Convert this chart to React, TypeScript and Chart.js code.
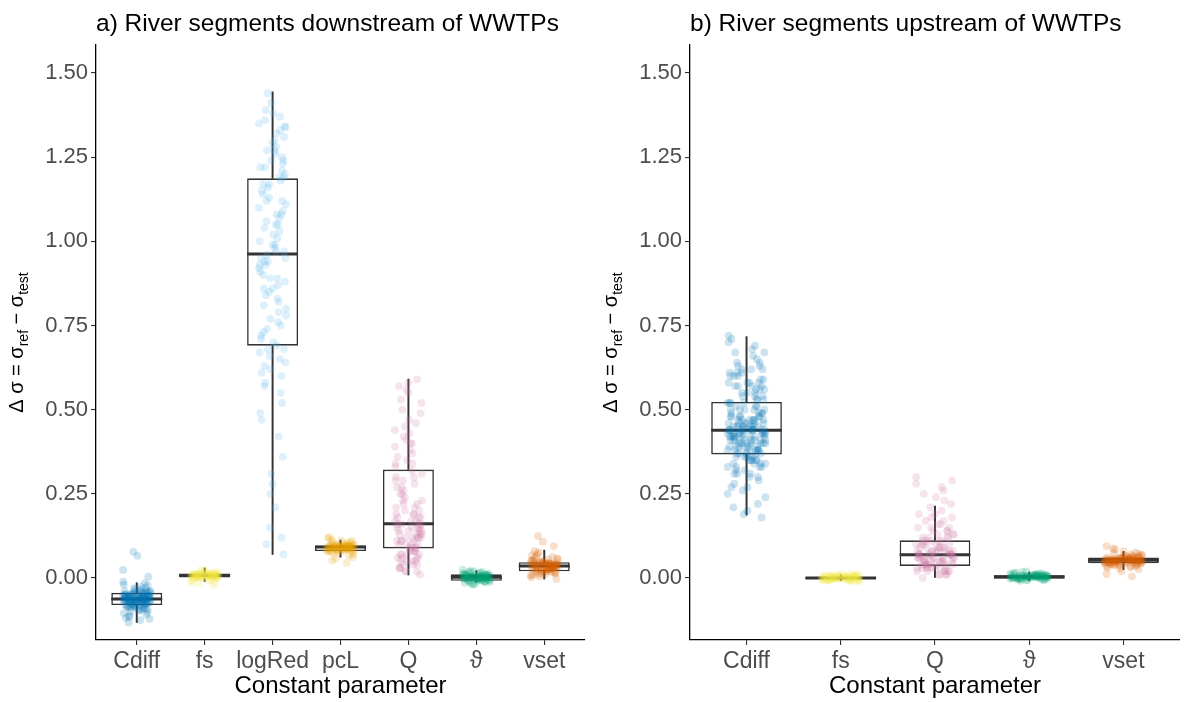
import React, { useEffect, useRef } from "react";
import { Chart, registerables } from "chart.js";

Chart.register(...registerables);

const FONT = '"Liberation Sans", Arial, sans-serif';

// ---- categories ----
const CATEGORIES_A = ["Cdiff", "fs", "logRed", "pcL", "Q", "ϑ", "vset"];
const CATEGORIES_B = ["Cdiff", "fs", "Q", "ϑ", "vset"];

// ---- y axis ----
const Y_TICKS = [0, 0.25, 0.5, 0.75, 1.0, 1.25, 1.5];
const Y_MIN = -0.184;
const Y_MAX = 1.583;

// ---- panel a: individual river segments ----
const A_CDIFF = [
  -0.062, -0.048, -0.091, 0.078, -0.055, -0.071, -0.036, -0.104, -0.066, -0.059, -0.044, -0.083,
  0.066, -0.052, -0.075, -0.029, -0.118, -0.063, -0.069, -0.041, -0.087, -0.057, -0.05, -0.095,
  -0.064, -0.022, -0.078, -0.06, -0.046, -0.132, -0.073, 0.024, -0.054, -0.068, -0.038, -0.099,
  -0.061, -0.08, -0.051, -0.015, -0.07, -0.058, -0.112, -0.043, -0.065, -0.076, -0.033, -0.089,
  -0.056, -0.067, 0.004, -0.047, -0.079, -0.062, -0.125, -0.053, -0.072, -0.04, -0.085, -0.059,
  -0.026, -0.064, -0.093, -0.049, -0.074, -0.108, -0.057, -0.068, -0.011, -0.061, -0.082, -0.045,
  -0.07, -0.035, -0.097, -0.055, -0.077, -0.063, -0.121, -0.05, -0.066, -0.019, -0.058, -0.071,
  -0.049, -0.086, -0.063, -0.054, -0.077, -0.042, -0.067, -0.092, -0.06, -0.052, -0.081, -0.065,
  -0.038, -0.073, -0.056, -0.101, -0.062, -0.047, -0.069, -0.084, -0.059, -0.053, -0.075, -0.031,
  -0.066, -0.088, -0.061, -0.05, -0.079, -0.064, -0.045, -0.072, -0.115, -0.057, -0.068, -0.039,
  -0.083, -0.06,
];
const A_FS = [
  0.008, 0.004, 0.012, -0.002, 0.01, 0.006, 0.015, 0.001, 0.009, -0.008, 0.007, 0.013, 0.003, 0.011,
  0.02, 0.005, 0.008, -0.004, 0.01, 0.002, 0.014, 0.007, -0.015, 0.009, 0.004, 0.012, 0.006, 0.025,
  0.0, 0.008, 0.011, 0.003, -0.01, 0.009, 0.016, 0.005, 0.007, 0.001, 0.013, -0.02, 0.01, 0.006,
  0.008, 0.018, 0.002, 0.011, 0.004, -0.006, 0.009, 0.012, 0.007, 0.022, 0.005, 0.003, 0.01, -0.012,
  0.008, 0.014, 0.006, 0.001,
];
const A_LOGRED = [
  1.44, 0.86, 1.21, 0.63, 1.05, 0.92, 1.33, 0.15, 0.78, 1.12, 0.99, 1.27, 0.71, 0.55, 1.17, 0.95,
  1.36, 0.83, 0.67, 1.09, 1.24, 0.42, 0.9, 1.02, 1.31, 0.74, 0.6, 1.15, 0.97, 1.39, 0.88, 0.25,
  1.07, 1.22, 0.69, 0.81, 1.19, 0.94, 1.29, 0.52, 1.04, 0.76, 1.35, 0.65, 0.89, 1.11, 0.1, 1.26,
  0.98, 0.72, 1.18, 0.85, 1.34, 0.58, 1.01, 0.93, 1.23, 0.31, 0.79, 1.14, 1.38, 0.68, 0.96, 1.08,
  0.47, 1.28, 0.84, 1.2, 0.62, 1.03, 0.91, 1.32, 0.73, 0.07, 1.16, 0.99, 1.25, 0.57, 0.87, 1.1,
  1.37, 0.66, 0.8, 1.06, 0.21, 1.3, 0.95, 0.75, 1.13, 0.64, 1.22, 0.89, 1.0, 0.36, 1.41, 0.82,
  1.17, 0.7, 0.97, 1.27, 0.12, 0.61, 1.05, 0.93, 1.34, 0.77, 1.19, 0.49, 1.08, 0.86, 1.24, 0.68,
  0.28, 1.12, 0.94,
];
const A_PCL = [
  0.092, 0.085, 0.098, 0.074, 0.094, 0.088, 0.105, 0.081, 0.095, 0.09, 0.112, 0.083, 0.093, 0.067,
  0.096, 0.089, 0.101, 0.079, 0.092, 0.086, 0.118, 0.094, 0.082, 0.097, 0.058, 0.091, 0.087, 0.108,
  0.093, 0.08, 0.095, 0.076, 0.099, 0.09, 0.084, 0.093, 0.122, 0.088, 0.096, 0.071, 0.092, 0.103,
  0.083, 0.094, 0.089, 0.045, 0.097, 0.091, 0.11, 0.085, 0.093, 0.078, 0.095, 0.092, 0.062, 0.1,
  0.087, 0.094, 0.081, 0.115, 0.091, 0.096, 0.084, 0.093, 0.052, 0.098, 0.089, 0.106, 0.092, 0.086,
];
const A_Q = [
  0.59, 0.16, 0.05, 0.27, 0.12, 0.41, 0.08, 0.19, 0.34, 0.03, 0.14, 0.22, 0.55, 0.1, 0.07, 0.3,
  0.17, 0.46, 0.02, 0.13, 0.25, 0.09, 0.38, 0.15, 0.06, 0.2, 0.52, 0.11, 0.04, 0.29, 0.18, 0.35,
  0.08, 0.14, 0.43, 0.01, 0.23, 0.12, 0.06, 0.32, 0.16, 0.49, 0.1, 0.05, 0.21, 0.37, 0.13, 0.07,
  0.26, 0.58, 0.15, 0.03, 0.19, 0.44, 0.09, 0.12, 0.31, 0.06, 0.17, 0.4, 0.11, 0.02, 0.24, 0.14,
  0.53, 0.08, 0.33, 0.16, 0.05, 0.28, 0.1, 0.47, 0.13, 0.04, 0.22, 0.36, 0.15, 0.07, 0.18, 0.56,
  0.09, 0.3, 0.12, 0.03, 0.2, 0.42, 0.14, 0.06, 0.25, 0.11, 0.39, 0.17, 0.02, 0.23, 0.5, 0.1,
  0.08, 0.27, 0.13, 0.45, 0.16, 0.05, 0.19, 0.34, 0.12, 0.07, 0.21, 0.57, 0.09, 0.15, 0.29, 0.04,
  0.18, 0.4, 0.11,
];
const A_THETA = [
  0.002, -0.005, 0.008, 0.012, -0.01, 0.004, 0.0, 0.015, -0.003, 0.006, -0.014, 0.01, 0.001, -0.007,
  0.019, 0.003, -0.001, 0.009, -0.018, 0.005, 0.011, -0.004, 0.002, 0.022, -0.009, 0.007, 0.0,
  -0.012, 0.013, 0.004, -0.006, 0.001, 0.016, -0.002, 0.008, -0.016, 0.003, 0.01, -0.008, 0.005,
  0.025, -0.001, 0.006, -0.011, 0.002, 0.014, -0.004, 0.009, 0.0, -0.02, 0.007, 0.003, -0.006, 0.012,
  0.001, -0.003, 0.018, 0.004, -0.009, 0.006, 0.002, -0.013, 0.011, 0.0, 0.005, -0.005, 0.02, 0.003,
  -0.002, 0.008,
];
const A_VSET = [
  0.036, 0.028, 0.045, 0.052, 0.019, 0.038, 0.031, 0.06, 0.024, 0.041, 0.012, 0.034, 0.048, 0.026,
  0.072, 0.039, 0.015, 0.043, 0.03, 0.055, 0.022, 0.037, 0.005, 0.046, 0.033, 0.065, 0.027, 0.04,
  0.018, 0.05, 0.035, 0.125, 0.029, 0.044, 0.01, 0.038, 0.023, 0.058, 0.032, 0.042, 0.002, 0.036,
  0.047, 0.025, 0.08, 0.039, 0.016, 0.044, 0.03, 0.053, 0.021, 0.037, -0.003, 0.049, 0.034, 0.068,
  0.026, 0.041, 0.013, 0.046, 0.035, 0.095, 0.028, 0.043, 0.008, 0.038, 0.024, 0.056, 0.031, 0.04,
  0.02, 0.036, 0.062, 0.027, 0.045, 0.017, 0.033, 0.051, 0.039, 0.108, 0.029, 0.042, 0.011, 0.035,
  0.076,
];

// box statistics, panel a (Cdiff, fs, logRed, pcL, Q, ϑ, vset)
const WHISKER_LO_A = [-0.132, -0.01, 0.07, 0.062, 0.009, -0.012, -0.003];
const Q1_A = [-0.08, 0.0, 0.69, 0.08, 0.088, -0.008, 0.02];
const MEDIAN_A = [-0.062, 0.008, 0.962, 0.092, 0.161, 0.002, 0.036];
const Q3_A = [-0.044, 0.012, 1.187, 0.097, 0.322, 0.011, 0.047];
const WHISKER_HI_A = [-0.014, 0.03, 1.444, 0.113, 0.591, 0.022, 0.083];

// ---- panel b: individual river segments ----
const B_CDIFF = [
  0.44, 0.52, 0.38, 0.61, 0.43, 0.33, 0.47, 0.7, 0.41, 0.36, 0.55, 0.45, 0.27, 0.49, 0.4, 0.58,
  0.42, 0.35, 0.64, 0.46, 0.19, 0.51, 0.39, 0.44, 0.31, 0.57, 0.43, 0.37, 0.48, 0.67, 0.41, 0.25,
  0.53, 0.45, 0.34, 0.6, 0.42, 0.38, 0.5, 0.22, 0.44, 0.56, 0.36, 0.47, 0.72, 0.4, 0.32, 0.54,
  0.43, 0.39, 0.62, 0.46, 0.29, 0.49, 0.41, 0.37, 0.59, 0.44, 0.35, 0.52, 0.68, 0.42, 0.18, 0.48,
  0.4, 0.33, 0.57, 0.45, 0.38, 0.51, 0.26, 0.43, 0.63, 0.36, 0.47, 0.41, 0.3, 0.55, 0.44, 0.39,
  0.66, 0.46, 0.34, 0.5, 0.42, 0.21, 0.58, 0.43, 0.37, 0.48, 0.71, 0.4, 0.31, 0.53, 0.45, 0.38,
  0.61, 0.44, 0.28, 0.49, 0.41, 0.36, 0.56, 0.43, 0.34, 0.52, 0.65, 0.42, 0.24, 0.47, 0.39, 0.35,
  0.6, 0.45, 0.4, 0.5, 0.32, 0.44, 0.58, 0.37, 0.46, 0.69, 0.41, 0.2, 0.54, 0.43, 0.38, 0.48, 0.62,
  0.45, 0.47, 0.39, 0.56, 0.42, 0.35, 0.6, 0.44, 0.5, 0.37, 0.63, 0.41, 0.46, 0.33, 0.53, 0.43,
  0.4, 0.57, 0.45, 0.3, 0.48, 0.38, 0.62, 0.42, 0.51, 0.36, 0.44, 0.59, 0.41, 0.47, 0.34, 0.55,
  0.43, 0.39, 0.49, 0.27, 0.45, 0.61, 0.4, 0.52, 0.37, 0.44, 0.57, 0.42, 0.33, 0.48, 0.46, 0.64,
  0.38, 0.5, 0.43, 0.35, 0.54, 0.41, 0.45, 0.31, 0.58, 0.44, 0.39, 0.47, 0.67,
];
const B_FS = [
  0.0, 0.004, -0.003, 0.007, -0.006, 0.002, -0.001, 0.01, -0.008, 0.005, 0.001, -0.004, 0.008,
  -0.002, 0.003, -0.01, 0.006, 0.0, -0.005, 0.012, 0.002, -0.007, 0.004, -0.001, 0.009, -0.003,
  0.001, 0.006, -0.009, 0.003, 0.0, -0.004, 0.007, -0.002, 0.005, -0.006, 0.011, 0.001, -0.003,
  0.004, -0.008, 0.002, 0.008, -0.001, 0.0, -0.005, 0.006, 0.003, -0.007, 0.01, -0.002, 0.001,
  0.005, -0.004, 0.007, 0.0, -0.006, 0.002, 0.009, -0.001,
];
const B_Q = [
  0.07, 0.03, 0.12, 0.05, 0.09, 0.3, 0.02, 0.15, 0.06, 0.04, 0.11, 0.08, 0.19, 0.01, 0.07, 0.13,
  0.05, 0.27, 0.03, 0.1, 0.06, 0.17, 0.04, 0.08, 0.22, 0.02, 0.14, 0.07, 0.05, 0.11, 0.29, 0.03,
  0.09, 0.06, 0.16, 0.0, 0.08, 0.12, 0.04, 0.07, 0.25, 0.05, 0.1, 0.03, 0.18, 0.06, 0.09, 0.01,
  0.13, 0.07, 0.04, 0.21, 0.08, 0.05, 0.11, 0.02, 0.15, 0.06, 0.26, 0.03, 0.1, 0.07, 0.04, 0.14,
  0.09, 0.01, 0.17, 0.05, 0.08, 0.23, 0.06, 0.03, 0.12, 0.07, 0.04, 0.19, 0.02, 0.1, 0.06, 0.28,
  0.08, 0.05, 0.13, 0.03, 0.09, 0.16, 0.07, 0.01, 0.11, 0.04, 0.06, 0.2, 0.08, 0.02, 0.14, 0.05,
  0.1, 0.24, 0.07, 0.03, 0.12, 0.06, 0.09, 0.04, 0.18, 0.08, 0.02, 0.15, 0.05, 0.11,
];
const B_THETA = [
  0.004, 0.001, 0.007, -0.002, 0.01, 0.003, 0.006, -0.005, 0.012, 0.002, 0.005, 0.0, 0.008, -0.003,
  0.015, 0.004, 0.001, 0.009, -0.007, 0.006, 0.003, 0.011, -0.001, 0.005, 0.018, 0.002, 0.007,
  -0.004, 0.004, 0.013, 0.0, 0.006, 0.003, -0.008, 0.009, 0.005, 0.001, 0.014, 0.004, -0.002, 0.007,
  0.002, 0.01, -0.006, 0.005, 0.003, 0.016, 0.001, 0.008, -0.001, 0.004, 0.011, 0.006, -0.003,
  0.002, 0.02, 0.005, 0.0, 0.009, 0.003, -0.005, 0.007, 0.004, 0.012, 0.001, 0.006, -0.002, 0.008,
  0.003, 0.005,
];
const B_VSET = [
  0.053, 0.047, 0.06, 0.041, 0.056, 0.05, 0.066, 0.035, 0.054, 0.045, 0.072, 0.051, 0.058, 0.038,
  0.052, 0.063, 0.044, 0.055, 0.029, 0.049, 0.085, 0.057, 0.046, 0.061, 0.053, 0.04, 0.068, 0.051,
  0.033, 0.056, 0.048, 0.059, 0.005, 0.054, 0.043, 0.064, 0.05, 0.076, 0.047, 0.055, 0.037, 0.052,
  0.06, 0.045, 0.095, 0.057, 0.049, 0.026, 0.053, 0.062, 0.042, 0.055, 0.07, 0.048, 0.058, 0.039,
  0.052, 0.046, 0.065, 0.054, 0.031, 0.05, 0.059, 0.044, 0.088, 0.056, 0.047, 0.061, 0.02, 0.053,
  0.041, 0.067, 0.051, 0.057, 0.036, 0.054, 0.049, 0.074, 0.045, 0.058, 0.052, 0.012, 0.056, 0.043,
  0.063, 0.05, 0.08, 0.048, 0.055, 0.034, 0.053, 0.06, 0.046, 0.069, 0.051,
];

// box statistics, panel b (Cdiff, fs, Q, ϑ, vset)
const WHISKER_LO_B = [0.187, -0.008, 0.002, -0.008, 0.025];
const Q1_B = [0.367, -0.003, 0.036, -0.002, 0.044];
const MEDIAN_B = [0.439, 0.0, 0.069, 0.004, 0.053];
const Q3_B = [0.523, 0.003, 0.112, 0.008, 0.061];
const WHISKER_HI_B = [0.717, 0.01, 0.214, 0.018, 0.079];

// ---- styling ----
const COLORS: Record<string, string> = {
  Cdiff: "#0072B2",
  fs: "#F0E442",
  logRed: "#56B4E9",
  pcL: "#E69F00",
  Q: "#CC79A7",
  "ϑ": "#009E73",
  vset: "#D55E00",
};

// horizontal spread of the jittered points (category units)
const JITTER = [
  0.03, -0.17, 0.12, -0.05, 0.19, -0.11, 0.07, -0.19, 0.15, -0.02, 0.09, -0.14, 0.01, 0.17, -0.08,
  0.13, -0.16, 0.05, -0.1, 0.18, -0.03, 0.1, -0.18, 0.06, -0.13, 0.16, -0.07, 0.0, 0.14, -0.12,
  0.08, -0.2, 0.11, -0.04, 0.2, -0.09, 0.04,
];

function withAlpha(hex: string, a: number) {
  const r = parseInt(hex.slice(1, 3), 16);
  const g = parseInt(hex.slice(3, 5), 16);
  const b = parseInt(hex.slice(5, 7), 16);
  return `rgba(${r},${g},${b},${a})`;
}

function drawYLabel(ctx: CanvasRenderingContext2D, baseX: number, centerY: number) {
  const big = `20px ${FONT}`;
  const small = `14px ${FONT}`;
  const parts = [
    { t: "Δ σ = σ", f: big, dy: 0 },
    { t: "ref", f: small, dy: 5 },
    { t: " − σ", f: big, dy: 0 },
    { t: "test", f: small, dy: 5 },
  ];
  ctx.save();
  ctx.translate(baseX, centerY);
  ctx.rotate(-Math.PI / 2);
  ctx.fillStyle = "#000";
  ctx.textAlign = "left";
  ctx.textBaseline = "alphabetic";
  let total = 0;
  const widths = parts.map((p) => {
    ctx.font = p.f;
    const w = ctx.measureText(p.t).width;
    total += w;
    return w;
  });
  let x = -total / 2;
  parts.forEach((p, i) => {
    ctx.font = p.f;
    ctx.fillText(p.t, x, p.dy);
    x += widths[i];
  });
  ctx.restore();
}

type PanelProps = {
  title: string;
  cats: string[];
  values: number[][];
  lo: number[];
  q1: number[];
  med: number[];
  q3: number[];
  hi: number[];
  left: number;
  axisWidth: number;
  padRight: number;
};

const W = 592;
const H = 702;

function Panel(p: PanelProps) {
  const ref = useRef<HTMLCanvasElement>(null);

  useEffect(() => {
    const canvas = ref.current;
    if (!canvas) return;
    const n = p.cats.length;
    const halfBox = (chart: any) => {
      const xs = chart.scales.x;
      return Math.abs(xs.getPixelForValue(1.375) - xs.getPixelForValue(1));
    };

    const datasets: any[] = [];
    // lower and upper whiskers
    datasets.push({
      type: "bar",
      data: p.cats.map((_, i) => ({ x: i + 1, y: [p.lo[i], p.q1[i]] })),
      backgroundColor: "#333333",
      borderWidth: 0,
      barThickness: 1.3,
      grouped: false,
      order: 4,
    });
    datasets.push({
      type: "bar",
      data: p.cats.map((_, i) => ({ x: i + 1, y: [p.q3[i], p.hi[i]] })),
      backgroundColor: "#333333",
      borderWidth: 0,
      barThickness: 1.3,
      grouped: false,
      order: 4,
    });
    // boxes (Q1–Q3)
    datasets.push({
      type: "bar",
      data: p.cats.map((_, i) => ({ x: i + 1, y: [p.q1[i], p.q3[i]] })),
      backgroundColor: "#ffffff",
      borderColor: "#333333",
      borderWidth: 1.6,
      borderSkipped: false,
      barPercentage: 0.75,
      categoryPercentage: 1,
      grouped: false,
      order: 3,
    });
    // medians
    datasets.push({
      type: "scatter",
      data: p.cats.map((_, i) => ({ x: i + 1, y: p.med[i] })),
      pointStyle: "line",
      pointRadius: (ctx: any) => halfBox(ctx.chart),
      pointBorderColor: "#333333",
      pointBorderWidth: 3,
      order: 2,
    });
    // jittered observations
    p.cats.forEach((c, i) => {
      datasets.push({
        type: "scatter",
        data: p.values[i].map((v, k) => ({
          x: i + 1 + JITTER[(k + i * 13) % JITTER.length],
          y: v,
        })),
        pointBackgroundColor: withAlpha(COLORS[c], 0.2),
        pointBorderWidth: 0,
        pointRadius: 3.9,
        order: 1,
      });
    });

    const textPlugin = {
      id: "panelText",
      afterDraw(chart: any) {
        const { ctx, chartArea: a } = chart;
        ctx.save();
        ctx.fillStyle = "#000";
        ctx.textBaseline = "alphabetic";
        ctx.font = `24.5px ${FONT}`;
        ctx.textAlign = "left";
        ctx.fillText(p.title, a.left, 31);
        ctx.font = `24px ${FONT}`;
        ctx.textAlign = "center";
        ctx.fillText("Constant parameter", (a.left + a.right) / 2, 693);
        ctx.restore();
        drawYLabel(ctx, a.left - 73, (a.top + a.bottom) / 2);
      },
    };

    const chart = new Chart(canvas, {
      type: "scatter",
      data: { datasets },
      plugins: [textPlugin],
      options: {
        animation: false,
        responsive: false,
        devicePixelRatio: 1,
        events: [],
        layout: { padding: { top: 45, right: p.padRight, left: 0, bottom: 0 } },
        plugins: { legend: { display: false }, tooltip: { enabled: false }, title: { display: false } },
        scales: {
          x: {
            type: "linear",
            min: 0.4,
            max: n + 0.6,
            offset: false,
            afterBuildTicks: (s: any) => {
              s.ticks = p.cats.map((_, i) => ({ value: i + 1 }));
            },
            afterFit: (s: any) => {
              s.height = H - 640;
            },
            ticks: {
              callback: (v: any) => p.cats[Math.round(Number(v)) - 1] ?? "",
              color: "#4d4d4d",
              font: { family: FONT, size: 23 },
              padding: 3,
              autoSkip: false,
              maxRotation: 0,
              minRotation: 0,
            },
            grid: {
              display: true,
              offset: false,
              drawOnChartArea: false,
              drawTicks: true,
              tickLength: 5,
              color: "#333333",
              lineWidth: 1.1,
            },
            border: { display: true, color: "#000000", width: 1.3 },
          },
          y: {
            type: "linear",
            min: Y_MIN,
            max: Y_MAX,
            afterBuildTicks: (s: any) => {
              s.ticks = Y_TICKS.map((v) => ({ value: v }));
            },
            afterFit: (s: any) => {
              s.width = p.axisWidth;
            },
            ticks: {
              callback: (v: any) => Number(v).toFixed(2),
              color: "#4d4d4d",
              font: { family: FONT, size: 22 },
              padding: 3,
            },
            grid: {
              display: true,
              drawOnChartArea: false,
              drawTicks: true,
              tickLength: 5,
              color: "#333333",
              lineWidth: 1.1,
            },
            border: { display: true, color: "#000000", width: 1.3 },
          },
        },
      } as any,
    });
    return () => chart.destroy();
  }, []);

  return (
    <canvas
      ref={ref}
      width={W}
      height={H}
      style={{ position: "absolute", left: p.left, top: 0, width: W, height: H }}
    />
  );
}

export default function App() {
  return (
    <div
      style={{
        position: "absolute",
        left: 0,
        top: 0,
        width: 1184,
        height: 702,
        background: "#ffffff",
        overflow: "hidden",
      }}
    >
      <Panel
        title="a) River segments downstream of WWTPs"
        cats={CATEGORIES_A}
        values={[A_CDIFF, A_FS, A_LOGRED, A_PCL, A_Q, A_THETA, A_VSET]}
        lo={WHISKER_LO_A}
        q1={Q1_A}
        med={MEDIAN_A}
        q3={Q3_A}
        hi={WHISKER_HI_A}
        left={0}
        axisWidth={96}
        padRight={7}
      />
      <Panel
        title="b) River segments upstream of WWTPs"
        cats={CATEGORIES_B}
        values={[B_CDIFF, B_FS, B_Q, B_THETA, B_VSET]}
        lo={WHISKER_LO_B}
        q1={Q1_B}
        med={MEDIAN_B}
        q3={Q3_B}
        hi={WHISKER_HI_B}
        left={592}
        axisWidth={98}
        padRight={4}
      />
    </div>
  );
}
